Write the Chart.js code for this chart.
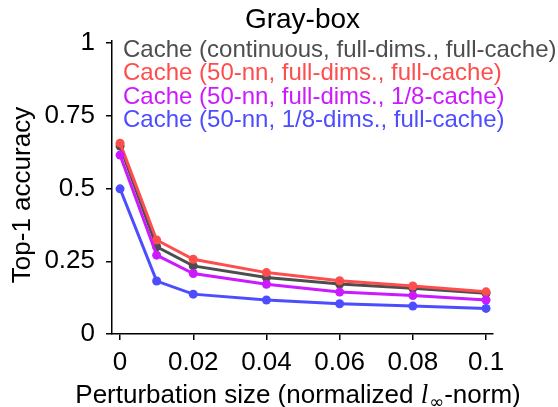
<!DOCTYPE html>
<html>
<head>
<meta charset="utf-8">
<script src="https://cdn.jsdelivr.net/npm/chart.js@4"></script>
<style>
  body { margin: 0; background: #fff; }
  #wrap { width: 558px; height: 407px; }
</style>
</head>
<body>
<div id="wrap"><canvas id="chart" width="558" height="407"></canvas></div>
<script>
// --- datos ---
const sizes = [0, 0.01, 0.02, 0.04, 0.06, 0.08, 0.1];
const grayAcc    = [0.646, 0.300, 0.234, 0.194, 0.172, 0.157, 0.140];
const redAcc     = [0.656, 0.323, 0.257, 0.211, 0.183, 0.165, 0.145];
const magentaAcc = [0.615, 0.271, 0.208, 0.171, 0.144, 0.132, 0.117];
const blueAcc    = [0.499, 0.182, 0.137, 0.117, 0.104, 0.096, 0.088];

const seriesNames = [
  'Cache (continuous, full-dims., full-cache)',
  'Cache (50-nn, full-dims., full-cache)',
  'Cache (50-nn, full-dims., 1/8-cache)',
  'Cache (50-nn, 1/8-dims., full-cache)'
];
const xTicks = [0, 0.02, 0.04, 0.06, 0.08, 0.1];
const xTickLabels = ['0', '0.02', '0.04', '0.06', '0.08', '0.1'];
const yTicks = [0, 0.25, 0.5, 0.75, 1];
const yTickLabels = ['0', '0.25', '0.5', '0.75', '1'];

const colors = ['#4d4d4d', '#ff4d4d', '#cc1aff', '#4d4dff'];
const FONT = '"Liberation Sans", Arial, sans-serif';

const toPoints = vals => vals.map((v, i) => ({ x: sizes[i], y: v }));

const makeSet = (i, vals) => ({
  label: seriesNames[i],
  data: toPoints(vals),
  borderColor: colors[i],
  backgroundColor: colors[i],
  borderWidth: 3,
  pointRadius: 4.5,
  pointBorderWidth: 0,
  pointBackgroundColor: colors[i],
  tension: 0,
  order: 4 - i
});

// textos: titulo, leyenda y etiquetas de ejes
const textPlugin = {
  id: 'texts',
  afterDraw(chart) {
    const ctx = chart.ctx;
    const area = chart.chartArea;
    const cx = (area.left + area.right) / 2;
    ctx.save();

    // titulo
    ctx.fillStyle = '#000';
    ctx.font = '28px ' + FONT;
    ctx.textAlign = 'center';
    ctx.textBaseline = 'alphabetic';
    ctx.fillText('Gray-box', cx, 28);

    // leyenda (solo texto coloreado)
    ctx.font = '24px ' + FONT;
    ctx.textAlign = 'left';
    seriesNames.forEach((name, i) => {
      ctx.fillStyle = colors[i];
      ctx.fillText(name, 123, 57 + i * 23.3);
    });

    // etiqueta eje y
    ctx.fillStyle = '#000';
    ctx.font = '26px ' + FONT;
    ctx.save();
    ctx.translate(30, 195);
    ctx.rotate(-Math.PI / 2);
    ctx.textAlign = 'center';
    ctx.fillText('Top-1 accuracy', 0, 0);
    ctx.restore();

    // etiqueta eje x con l_inf
    const pre = 'Perturbation size (normalized ';
    const post = '-norm)';
    const fMain = '26px ' + FONT;
    const fItal = 'italic 27px "Liberation Serif", "DejaVu Serif", serif';
    const fSub = '18px "DejaVu Sans", sans-serif';
    ctx.textAlign = 'left';
    ctx.font = fMain; const w1 = ctx.measureText(pre).width; const w4 = ctx.measureText(post).width;
    ctx.font = fItal; const w2 = ctx.measureText('l').width + 1;
    ctx.font = fSub; const w3 = ctx.measureText('\u221e').width;
    let x = 298 - (w1 + w2 + w3 + w4) / 2;
    const base = 403;
    ctx.font = fMain; ctx.fillText(pre, x, base); x += w1;
    ctx.font = fItal; ctx.fillText('l', x, base); x += w2;
    ctx.font = fSub; ctx.fillText('\u221e', x, base + 5); x += w3;
    ctx.font = fMain; ctx.fillText(post, x, base);

    ctx.restore();
  }
};

new Chart(document.getElementById('chart').getContext('2d'), {
  type: 'line',
  data: {
    datasets: [
      makeSet(0, grayAcc),
      makeSet(1, redAcc),
      makeSet(2, magentaAcc),
      makeSet(3, blueAcc)
    ]
  },
  options: {
    responsive: false,
    animation: false,
    layout: { padding: { left: 0, right: 65, top: 41, bottom: 0 } },
    plugins: {
      legend: { display: false },
      title: { display: false },
      tooltip: { enabled: false }
    },
    scales: {
      x: {
        type: 'linear',
        min: -0.0022,
        max: 0.1019,
        afterFit: s => { s.height = 73; },
        afterBuildTicks: s => { s.ticks = xTicks.map(v => ({ value: v })); },
        grid: { display: true, drawOnChartArea: false, drawTicks: true, tickLength: 6, color: '#000', lineWidth: 1.5 },
        border: { display: true, color: '#000', width: 1.5 },
        ticks: {
          color: '#000',
          font: { family: FONT, size: 26 },
          padding: 7,
          maxRotation: 0,
          autoSkip: false,
          callback: (v) => { const i = xTicks.indexOf(v); return i >= 0 ? xTickLabels[i] : ''; }
        }
      },
      y: {
        min: 0,
        max: 1.007,
        afterFit: s => { s.width = 112; },
        afterBuildTicks: s => { s.ticks = yTicks.map(v => ({ value: v })); },
        grid: { display: true, drawOnChartArea: false, drawTicks: true, tickLength: 6, color: '#000', lineWidth: 1.5 },
        border: { display: true, color: '#000', width: 1.5 },
        ticks: {
          color: '#000',
          font: { family: FONT, size: 26 },
          padding: 11,
          autoSkip: false,
          callback: (v) => { const i = yTicks.indexOf(v); return i >= 0 ? yTickLabels[i] : ''; }
        }
      }
    }
  },
  plugins: [textPlugin]
});
</script>
</body>
</html>
